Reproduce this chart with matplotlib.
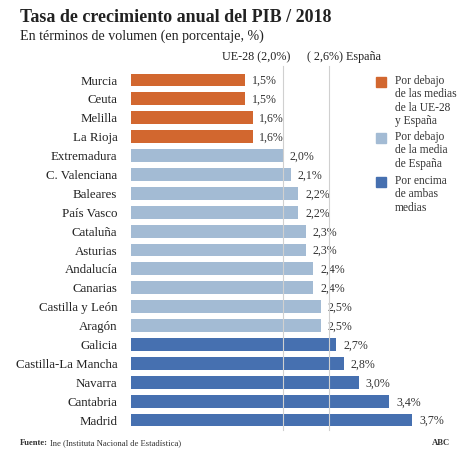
import matplotlib
matplotlib.use("Agg")
import matplotlib.pyplot as plt
from matplotlib.patches import Rectangle

regions = ["Murcia", "Ceuta", "Melilla", "La Rioja", "Extremadura", "C. Valenciana",
           "Baleares", "País Vasco", "Cataluña", "Asturias", "Andalucía", "Canarias",
           "Castilla y León", "Aragón", "Galicia", "Castilla-La Mancha", "Navarra",
           "Cantabria", "Madrid"]
values = [1.5, 1.5, 1.6, 1.6, 2.0, 2.1, 2.2, 2.2, 2.3, 2.3, 2.4, 2.4, 2.5, 2.5,
          2.7, 2.8, 3.0, 3.4, 3.7]
groups = [0, 0, 0, 0, 1, 1, 1, 1, 1, 1, 1, 1, 1, 1, 2, 2, 2, 2, 2]
ue_avg = 2.0
es_avg = 2.6
legend_labels = ["Por debajo\nde las medias\nde la UE-28\ny España",
                 "Por debajo\nde la media\nde España",
                 "Por encima\nde ambas\nmedias"]
colors = ["#D2672F", "#A3BBD4", "#4670B0"]

W, H = 474, 458
fig = plt.figure(figsize=(W / 100, H / 100), dpi=100)
fam = ["Liberation Serif", "DejaVu Serif"]

n = len(regions)
x0 = 131
ppu = 76
xmax = 4.3
top_y = 80
step = (420 - 80) / (n - 1)
ax_top = top_y - step / 2
ax_bot = top_y + step * (n - 1) + step / 2
ax = fig.add_axes([x0 / W, 1 - ax_bot / H, xmax * ppu / W, (ax_bot - ax_top) / H])
ax.set_xlim(0, xmax)
ax.set_ylim(n - 0.5, -0.5)
ax.axis("off")

ys = list(range(n))
ax.barh(ys, values, height=0.68, color=[colors[g] for g in groups], zorder=2)
for y, v, name in zip(ys, values, regions):
    ax.text(v + 0.09, y + 0.06, f"{v:.1f}%".replace(".", ","), va="center", ha="left",
            fontsize=8.6, family=fam, color="#333333")
    ax.text(-0.18, y + 0.08, name, va="center", ha="right", fontsize=9.25, family=fam,
            color="#222222")
for a in (ue_avg, es_avg):
    ax.plot([a, a], [-0.75, n - 0.45], color="#d0d0d0", lw=0.8, zorder=3, clip_on=False)

fig.text(20 / W, 1 - 17 / H, "Tasa de crecimiento anual del PIB / 2018", fontsize=13,
         weight="bold", family=fam, va="center", ha="left", color="#222222")
fig.text(20 / W, 1 - 36 / H, "En términos de volumen (en porcentaje, %)", fontsize=10.1,
         family=fam, va="center", ha="left", color="#222222")
fig.text(290 / W, 1 - 57 / H, f"UE-28 ({ue_avg:.1f}%)".replace(".", ","), fontsize=8.7,
         family=fam, va="center", ha="right", color="#222222")
fig.text(307 / W, 1 - 57 / H, f"( {es_avg:.1f}%) España".replace(".", ","), fontsize=8.7,
         family=fam, va="center", ha="left", color="#222222")

leg_y = [82, 138, 182]
for lab, c, ly in zip(legend_labels, colors, leg_y):
    fig.patches.append(Rectangle((376 / W, 1 - (ly + 5) / H), 10 / W, 10 / H,
                                 transform=fig.transFigure, color=c))
    fig.text(395 / W, 1 - (ly - 7) / H, lab, fontsize=8.3, family=fam, va="top",
             ha="left", color="#333333", linespacing=1.15)

t1 = fig.text(20 / W, 1 - 443 / H, "Fuente:", fontsize=6.2, weight="bold", family=fam,
              va="center", ha="left", color="#333333")
fig.canvas.draw()
bb = t1.get_window_extent()
fig.text((bb.x1 + 2) / W, 1 - 443 / H, "Ine (Instituta Nacional de Estadística)",
         fontsize=6.2, family=fam, va="center", ha="left", color="#333333")
fig.text(450 / W, 1 - 443 / H, "ABC", fontsize=6.2, weight="bold", family=fam,
         va="center", ha="right", color="#333333")

fig.savefig("out.png", dpi=100, facecolor="white")
